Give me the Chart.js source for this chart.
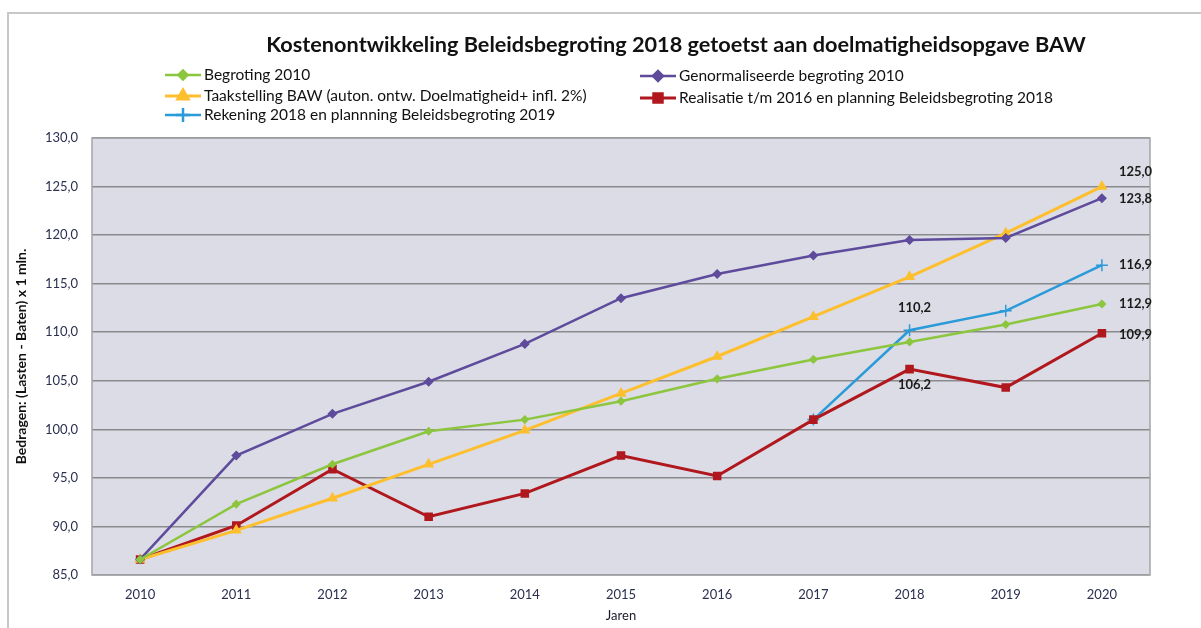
<!DOCTYPE html>
<html>
<head>
<meta charset="utf-8">
<script src="https://cdn.jsdelivr.net/npm/chart.js@4/dist/chart.umd.min.js"></script>
<style>
  html, body { margin: 0; padding: 0; background: #fff; }
  #wrap { position: relative; width: 1201px; height: 628px; }
</style>
</head>
<body>
<div id="wrap"><canvas id="kosten" width="1201" height="628"></canvas></div>
<script>
// data
const jaren = ['2010','2011','2012','2013','2014','2015','2016','2017','2018','2019','2020'];
const begroting2010   = [86.6, 92.3, 96.4, 99.8, 101.0, 102.9, 105.2, 107.2, 109.0, 110.8, 112.9];
const genormaliseerd  = [86.6, 97.3, 101.6, 104.9, 108.8, 113.5, 116.0, 117.9, 119.5, 119.7, 123.8];
const taakstelling    = [86.6, 89.6, 92.9, 96.4, 99.9, 103.7, 107.5, 111.6, 115.7, 120.2, 125.0];
const realisatie      = [86.6, 90.1, 95.9, 91.0, 93.4, 97.3, 95.2, 101.0, 106.2, 104.3, 109.9];
const rekening2018    = [null, null, null, null, null, null, null, 101.0, 110.2, 112.2, 116.9];
const yTicks = { min: 85, max: 130, step: 5 };

const titel = 'Kostenontwikkeling Beleidsbegroting 2018 getoetst aan doelmatigheidsopgave BAW';

// welke punten krijgen een label: [dataset, index, dx, dy, align]
const labelPunten = [
  [2, 10, 17, -15, 'left'],
  [1, 10, 17, 1, 'left'],
  [4, 10, 17, 0, 'left'],
  [0, 10, 17, 0, 'left'],
  [3, 10, 17, 2, 'left'],
  [4, 8, 5, -22, 'center'],
  [3, 8, 5, 16, 'center']
];

const fmt = v => v.toFixed(1).replace('.', ',');

// achtergrond plot + kader
const plotBg = {
  id: 'plotBg',
  beforeDraw(chart) {
    const { ctx, chartArea: a } = chart;
    ctx.save();
    ctx.fillStyle = '#fff';
    ctx.fillRect(0, 0, chart.width, chart.height);
    // buitenkader
    ctx.strokeStyle = '#c8c8c8';
    ctx.lineWidth = 2;
    ctx.beginPath();
    ctx.moveTo(8, 628); ctx.lineTo(8, 13); ctx.lineTo(1201, 13);
    ctx.stroke();
    ctx.fillStyle = '#dcdce6';
    ctx.fillRect(a.left, a.top, a.right - a.left, a.bottom - a.top);
    ctx.restore();
  },
  afterDatasetsDraw(chart) {
    const { ctx, chartArea: a } = chart;
    ctx.save();
    ctx.strokeStyle = '#a4a4a8';
    ctx.lineWidth = 1.5;
    ctx.strokeRect(a.left, a.top, a.right - a.left, a.bottom - a.top);
    ctx.restore();
  }
};

// titel + legenda in twee kolommen
const kopEnLegenda = {
  id: 'kopEnLegenda',
  afterDraw(chart) {
    const { ctx } = chart;
    ctx.save();
    ctx.fillStyle = '#111';
    ctx.font = 'bold 21.7px Lato';
    ctx.textAlign = 'center';
    ctx.textBaseline = 'middle';
    ctx.fillText(titel, 676, 45);

    const plek = [[165, 75], [640, 76], [165, 96], [640, 98], [165, 115]];
    ctx.font = '15.5px Lato';
    ctx.textAlign = 'left';
    chart.data.datasets.forEach((ds, i) => {
      const [x, y] = plek[i];
      ctx.strokeStyle = ds.borderColor;
      ctx.lineWidth = ds.borderWidth;
      ctx.beginPath(); ctx.moveTo(x, y); ctx.lineTo(x + 36, y); ctx.stroke();
      ctx.fillStyle = ds.borderColor;
      Chart.helpers.drawPoint(ctx, {
        pointStyle: ds.pointStyle, radius: ds.pointRadius + 1, borderWidth: 2
      }, x + 18, y);
      ctx.fillStyle = '#111';
      ctx.fillText(ds.label, x + 39, y);
    });

    // waardelabels
    ctx.font = 'bold 13px Lato';
    ctx.fillStyle = '#1a1a1a';
    labelPunten.forEach(([di, idx, dx, dy, al]) => {
      const el = chart.getDatasetMeta(di).data[idx];
      const v = chart.data.datasets[di].data[idx];
      ctx.textAlign = al;
      ctx.fillText(fmt(v), el.x + dx, el.y + dy);
    });
    ctx.restore();
  }
};

const ds = (label, data, color, style, radius, width) => ({
  label, data,
  borderColor: color, backgroundColor: color,
  pointStyle: style, pointRadius: radius, pointBorderWidth: 1.5,
  pointBackgroundColor: color, pointBorderColor: color,
  borderWidth: width, tension: 0, spanGaps: false
});

new Chart(document.getElementById('kosten'), {
  type: 'line',
  data: {
    labels: jaren,
    datasets: [
      ds('Begroting 2010', begroting2010, '#8cc63e', 'rectRot', 3.5, 2.5),
      ds('Genormaliseerde begroting 2010', genormaliseerd, '#5e4b9c', 'rectRot', 4, 2.5),
      ds('Taakstelling BAW (auton. ontw. Doelmatigheid+ infl. 2%)', taakstelling, '#fdbf2d', 'triangle', 5, 3),
      ds('Realisatie t/m 2016 en planning Beleidsbegroting 2018', realisatie, '#b0181e', 'rect', 5, 3),
      ds('Rekening 2018 en plannning Beleidsbegroting 2019', rekening2018, '#2a9ad8', 'cross', 6, 2.5)
    ]
  },
  options: {
    responsive: false,
    animation: false,
    layout: { padding: { left: 10, top: 138, right: 51, bottom: 0 } },
    plugins: {
      legend: { display: false },
      title: { display: false },
      tooltip: { enabled: false }
    },
    scales: {
      x: {
        offset: true,
        grid: { display: false, drawTicks: false },
        border: { display: false },
        ticks: { color: '#2b2f50', font: { family: 'Lato', size: 13 }, padding: 12 },
        title: { display: true, text: 'Jaren', color: '#1a1a2a', font: { family: 'Lato', size: 13 }, padding: { top: 9 } },
        afterFit: s => { s.height = 53; }
      },
      y: {
        min: yTicks.min, max: yTicks.max,
        grid: { color: '#8a8a8e', lineWidth: 1.5, drawTicks: false },
        border: { display: false },
        ticks: {
          stepSize: yTicks.step, color: '#2b2f50',
          font: { family: 'Lato', size: 13 }, padding: 14,
          callback: v => fmt(v)
        },
        title: {
          display: true, text: 'Bedragen: (Lasten - Baten) x 1 mln.',
          color: '#111', font: { family: 'Lato', size: 14, weight: 'bold' }, padding: { top: 3, bottom: 0 }
        },
        afterFit: s => { s.width = 82; }
      }
    }
  },
  plugins: [plotBg, kopEnLegenda]
});
</script>
</body>
</html>
